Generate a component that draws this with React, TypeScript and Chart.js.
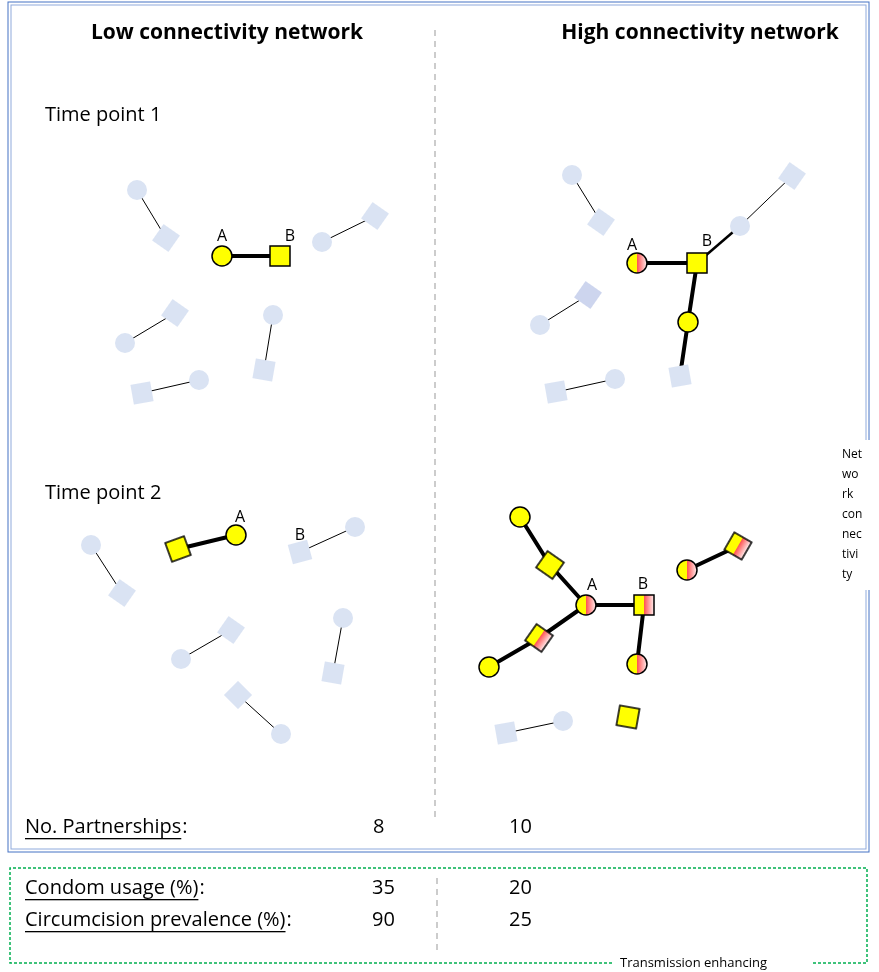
import { useEffect, useRef } from "react";
import { Chart, registerables } from "chart.js";

Chart.register(...registerables);

const W = 879;
const H = 972;
const BLUE = "#dae3f3";
const YEL = "#ffff00";

// kinds: bc blue circle, bs blue square, bd darker blue square, yc yellow circle, ys yellow square, hc half circle, hs half square
const nodeX = [137, 166, 222, 280, 322, 375, 125, 175, 273, 264, 142, 199,
  572, 601, 637, 697, 740, 792, 688, 680, 540, 588, 556, 615,
  91, 122, 178, 236, 300, 355, 181, 231, 343, 333, 238, 281,
  520, 550, 586, 644, 539, 489, 637, 687, 738, 506, 563, 628];
const nodeY = [190, 238, 256, 256, 242, 216, 343, 313, 315, 370, 393, 380,
  175, 222, 263, 263, 226, 176, 322, 376, 325, 295, 392, 379,
  545, 593, 549, 535, 552, 527, 659, 630, 618, 673, 695, 734,
  517, 565, 605, 605, 638, 667, 664, 570, 546, 733, 721, 717];
const nodeKind = ["bc", "bs", "yc", "ys", "bc", "bs", "bc", "bs", "bc", "bs", "bs", "bc",
  "bc", "bs", "hc", "ys", "bc", "bs", "yc", "bs", "bc", "bd", "bs", "bc",
  "bc", "bs", "ys", "yc", "bs", "bc", "bc", "bs", "bc", "bs", "bs", "bc",
  "yc", "ys", "hc", "hs", "hs", "yc", "hc", "hc", "hs", "bs", "bc", "ys"];
const nodeRot = [0, 35, 0, 0, 0, 35, 0, 35, 0, 10, -10, 0,
  0, 35, 0, 0, 0, 35, 0, -10, 0, 35, -10, 0,
  0, 35, -20, 0, -15, 0, 0, 35, 0, 10, 45, 0,
  0, 35, 0, 0, 35, 0, 0, 0, 30, -10, 0, 10];

// edges as node index pairs
const thinEdges = [[0, 1], [4, 5], [6, 7], [8, 9], [10, 11], [12, 13], [16, 17], [20, 21], [22, 23],
  [24, 25], [28, 29], [30, 31], [32, 33], [34, 35], [45, 46]];
const thickEdges = [[2, 3], [14, 15], [15, 18], [18, 19], [26, 27],
  [36, 37], [37, 38], [38, 39], [38, 40], [40, 41], [39, 42], [43, 44]];
const midEdges = [[15, 16]];

const labels = [["A", 222, 236], ["B", 290, 236], ["A", 632, 245], ["B", 707, 241],
  ["A", 240, 517], ["B", 300, 535], ["A", 592, 585], ["B", 643, 584]];

function makeNode(kind: string) {
  const c = document.createElement("canvas");
  c.width = 26; c.height = 26;
  const g = c.getContext("2d")!;
  const blue = kind[0] === "b";
  const circle = kind[1] === "c";
  const path = () => {
    g.beginPath();
    if (circle) g.arc(13, 13, 10, 0, Math.PI * 2);
    else g.rect(3, 3, 20, 20);
  };
  path();
  if (kind[0] === "h") {
    g.save(); g.clip();
    g.fillStyle = YEL; g.fillRect(0, 0, 13, 26);
    const gr = g.createLinearGradient(13, 0, 24, 0);
    gr.addColorStop(0, "#ff5050"); gr.addColorStop(1, "#ffffff");
    g.fillStyle = gr; g.fillRect(13, 0, 13, 26);
    g.restore();
  } else {
    g.fillStyle = blue ? (kind === "bd" ? "#cdd5ee" : BLUE) : YEL;
    g.fill();
  }
  if (!blue) { path(); g.lineWidth = 1.5; g.strokeStyle = "#000"; g.stroke(); }
  return c;
}

function edgeData(list: number[][]) {
  const out: any[] = [];
  list.forEach(([a, b]) => {
    out.push({ x: nodeX[a], y: nodeY[a] }, { x: nodeX[b], y: nodeY[b] }, { x: NaN, y: NaN });
  });
  return out;
}

const F = "'Open Sans', 'Liberation Sans', sans-serif";

const decor = {
  id: "decor",
  afterDatasetsDraw(chart: any) {
    const g = chart.ctx;
    const sx = (v: number) => chart.scales.x.getPixelForValue(v);
    const sy = (v: number) => chart.scales.y.getPixelForValue(v);
    g.save();
    // outer blue box
    g.strokeStyle = "#4472c4"; g.lineWidth = 1;
    g.strokeRect(sx(8), sy(2), sx(869) - sx(8), sy(852) - sy(2));
    g.strokeStyle = "#8faadc";
    g.strokeRect(sx(11), sy(5), sx(866) - sx(11), sy(849) - sy(5));
    // dashed separators
    g.strokeStyle = "#999"; g.setLineDash([6, 5]);
    g.beginPath(); g.moveTo(sx(435), sy(30)); g.lineTo(sx(435), sy(820)); g.stroke();
    g.beginPath(); g.moveTo(sx(437), sy(878)); g.lineTo(sx(437), sy(955)); g.stroke();
    // green box
    g.strokeStyle = "#00b050"; g.setLineDash([3, 2]); g.lineWidth = 1.5;
    g.beginPath();
    g.moveTo(sx(612), sy(963)); g.lineTo(sx(10), sy(963)); g.lineTo(sx(10), sy(868));
    g.lineTo(sx(867), sy(868)); g.lineTo(sx(867), sy(963)); g.lineTo(sx(812), sy(963));
    g.stroke();
    g.setLineDash([]);
    // white box for side label
    g.fillStyle = "#fff"; g.fillRect(sx(837), sy(440), 42, 150);
    g.fillStyle = "#000";
    g.textBaseline = "middle";
    g.font = `bold 21px ${F}`; g.textAlign = "center";
    g.fillText("Low connectivity network", sx(227), sy(33));
    g.fillText("High connectivity network", sx(700), sy(33));
    g.textAlign = "left"; g.font = `20px ${F}`;
    g.fillText("Time point 1", sx(45), sy(115));
    g.fillText("Time point 2", sx(45), sy(493));
    g.font = `16px ${F}`; g.textAlign = "center";
    labels.forEach(([t, x, y]: any) => g.fillText(t, sx(x), sy(y)));
    g.font = `12px ${F}`; g.textAlign = "left";
    ["Net", "wo", "rk", "con", "nec", "tivi", "ty"].forEach((t, i) => g.fillText(t, sx(842), sy(455 + i * 20)));
    g.font = `20px ${F}`;
    const under = (t: string, x: number, y: number) => {
      g.fillText(t, sx(x), sy(y));
      const w = g.measureText(t).width;
      g.fillRect(sx(x), sy(y) + 11, w, 1.3);
      g.fillText(":", sx(x) + w + 1, sy(y));
    };
    under("No. Partnerships", 25, 827);
    under("Condom usage (%)", 25, 888);
    under("Circumcision prevalence (%)", 25, 920);
    [["8", 373, 827], ["10", 509, 827], ["35", 372, 888], ["20", 509, 888], ["90", 372, 920], ["25", 509, 920]]
      .forEach(([t, x, y]: any) => g.fillText(t, sx(x), sy(y)));
    g.font = `13px ${F}`;
    g.fillText("Transmission enhancing", sx(620), sy(963));
    g.restore();
  },
};

export default function App() {
  const ref = useRef<HTMLCanvasElement>(null);
  useEffect(() => {
    document.body.style.margin = "0";
    const canvas = ref.current!;
    const imgs: Record<string, HTMLCanvasElement> = {};
    const styles = nodeKind.map((k) => (imgs[k] = imgs[k] || makeNode(k)));
    const chart = new Chart(canvas, {
      type: "scatter",
      data: {
        datasets: [
          { data: edgeData(thinEdges), showLine: true, borderColor: "#000", borderWidth: 1, pointRadius: 0, spanGaps: false, order: 3 },
          { data: edgeData(midEdges), showLine: true, borderColor: "#000", borderWidth: 2.5, pointRadius: 0, spanGaps: false, order: 2 },
          { data: edgeData(thickEdges), showLine: true, borderColor: "#000", borderWidth: 4, pointRadius: 0, spanGaps: false, order: 1 },
          {
            data: nodeX.map((x, i) => ({ x, y: nodeY[i] })),
            pointStyle: styles as any,
            rotation: nodeRot,
            pointRadius: 10,
            order: 0,
          } as any,
        ],
      },
      options: {
        responsive: false,
        animation: false,
        layout: { padding: 0, autoPadding: false },
        plugins: { legend: { display: false }, tooltip: { enabled: false } },
        scales: {
          x: { type: "linear", display: false, min: 0, max: W },
          y: { type: "linear", display: false, min: 0, max: H, reverse: true },
        },
      },
      plugins: [decor],
    });
    return () => chart.destroy();
  }, []);
  return <canvas ref={ref} width={W} height={H} style={{ display: "block" }} />;
}
